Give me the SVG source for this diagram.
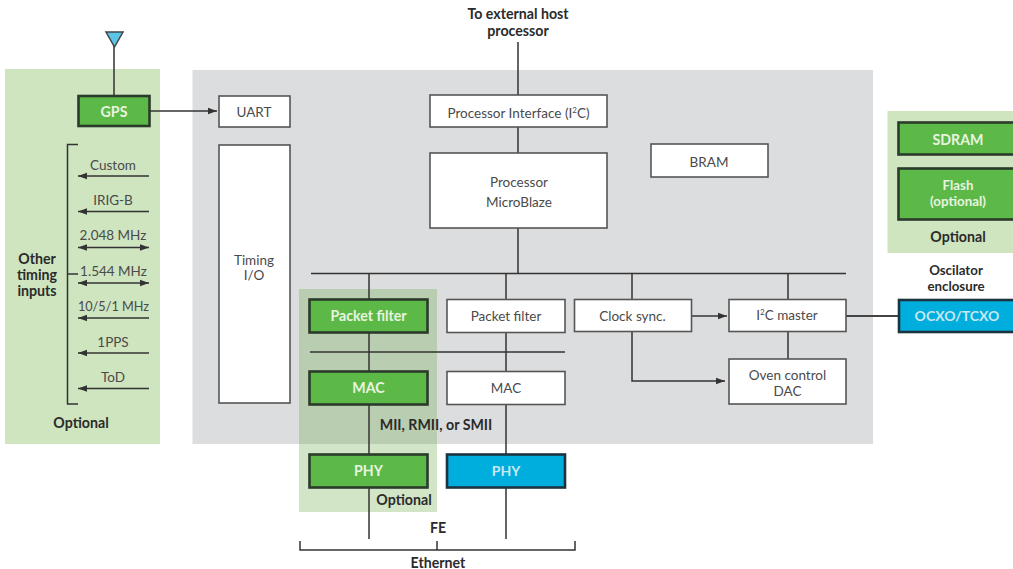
<svg xmlns="http://www.w3.org/2000/svg" width="1013" height="569" viewBox="0 0 1013 569">
<style>
text{font-family:"Lato","Open Sans","Liberation Sans",sans-serif;font-size:13.5px;fill:#4a4a4a;text-anchor:middle}
.b{font-weight:700;fill:#2b2b2b;font-size:14.2px}
.w{fill:#e8f4e0;font-weight:700;font-size:14.2px}
.c{fill:#c8e8f2;font-size:14px}
.s{font-size:13.3px}
.n{fill:#fff;stroke:#555;stroke-width:1.6}
.g{fill:#5cb947;stroke:#2b3a2b;stroke-width:2.6}
.y{fill:#00aede;stroke:#1c3440;stroke-width:2.6}
.l{fill:none;stroke:#333;stroke-width:1.5}
.t{stroke-width:2.2;stroke:#444}
</style>
<defs>
<marker id="e" markerUnits="userSpaceOnUse" markerWidth="10" markerHeight="8" refX="9" refY="4" orient="auto-start-reverse"><path d="M0 .8L9 4L0 7.2Z" fill="#333"/></marker>
</defs>
<rect x="5" y="69" width="155" height="375" fill="#cfe5c0"/>
<rect x="192.500" y="70" width="680.500" height="374" fill="#dcddde"/>
<rect x="887.500" y="111" width="125.500" height="142" fill="#cfe5c0"/>
<rect x="299" y="289" width="138" height="223" fill="#6aaa44" fill-opacity=".3"/>
<g id="connectors">
<path class="l" d="M114 46V96M518 42V95M518 127V153M518 228V273.500M311 273.500H846M369 273.500V299M506 273.500V299M632 273.500V299M788 273.500V299"/>
<path class="l" d="M369 332V371M506 332V371M310 352H565M369 404V454M506 404V454M369 487V539M506 487V539M788 332V359"/>
<path class="l" d="M300 541V550H575V541M437 541V550"/>
<path class="l" d="M78 144.500H67.500V404H78M67.500 274H78"/>
<path class="l t" d="M846 316H899"/>
<g class="l">
<path d="M149 111H217" marker-end="url(#e)"/>
<path d="M692 316H727" marker-end="url(#e)"/>
<path d="M632 332V381H725" marker-end="url(#e)"/>
<path d="M149 176H78" marker-end="url(#e)"/>
<path d="M149 211.500H78" marker-end="url(#e)"/>
<path d="M149 247.500H78" marker-start="url(#e)" marker-end="url(#e)"/>
<path d="M149 283H78" marker-start="url(#e)" marker-end="url(#e)"/>
<path d="M149 318H78" marker-end="url(#e)"/>
<path d="M149 353H78" marker-end="url(#e)"/>
<path d="M149 388.500H78" marker-end="url(#e)"/>
</g>
</g>
<g id="antenna"><path d="M106 32H123L114.500 47Z" fill="#5bc5e8" stroke="#444" stroke-width="1.500"/></g>
<g id="gps"><rect class="g" x="78.500" y="96" width="71" height="30"/><text class="w" x="114" y="116.500">GPS</text></g>
<g id="uart"><rect class="n" x="219" y="96" width="71" height="31"/><text x="254" y="116.500">UART</text></g>
<g id="timing"><rect class="n" x="219" y="145" width="71" height="258"/><text x="254" y="265">Timing</text><text x="254" y="280">I/O</text></g>
<g id="timing-inputs">
<text x="113" y="170">Custom</text><text x="113" y="205">IRIG-B</text><text x="113" y="240">2.048 MHz</text><text x="113.500" y="276">1.544 MHz</text><text x="113.500" y="311" style="font-size:12.700px">10/5/1 MHz</text><text x="113" y="347">1PPS</text><text x="113" y="382">ToD</text>
<text class="b" x="37" y="264">Other</text><text class="b" x="37" y="280">timing</text><text class="b" x="37" y="296">inputs</text>
<text class="b" x="81" y="428">Optional</text>
</g>
<g id="host"><text class="b" x="518" y="19">To external host</text><text class="b" x="518" y="36">processor</text></g>
<g id="proc-if"><rect class="n" x="430" y="95" width="177" height="32"/><text x="518.500" y="117.500">Processor Interface (I<tspan font-size="8" dy="-5">2</tspan><tspan dy="5">C)</tspan></text></g>
<g id="processor"><rect class="n" x="430" y="153" width="177" height="75"/><text x="519" y="187">Processor</text><text x="519" y="207">MicroBlaze</text></g>
<g id="bram"><rect class="n" x="651" y="144" width="117" height="33"/><text x="709" y="166.500">BRAM</text></g>
<g id="pf1"><rect class="g" x="309.500" y="299.500" width="118" height="33"/><text class="w" x="368.500" y="321">Packet filter</text></g>
<g id="pf2"><rect class="n" x="447" y="299.500" width="118" height="33"/><text x="506" y="321">Packet filter</text></g>
<g id="clock"><rect class="n" x="574.500" y="299.500" width="117" height="32"/><text x="632.500" y="321">Clock sync.</text></g>
<g id="i2c"><rect class="n" x="729" y="299.500" width="117" height="32"/><text x="787" y="320">I<tspan font-size="8" dy="-5">2</tspan><tspan dy="5">C master</tspan></text></g>
<g id="oven"><rect class="n" x="729" y="359" width="117" height="45"/><text x="787.500" y="380">Oven control</text><text x="787.500" y="396">DAC</text></g>
<g id="mac1"><rect class="g" x="309.500" y="371.500" width="118" height="33"/><text class="w" x="368.500" y="393">MAC</text></g>
<g id="mac2"><rect class="n" x="447" y="371.500" width="118" height="33"/><text x="506" y="393">MAC</text></g>
<text class="b" x="436" y="430">MII, RMII, or SMII</text>
<g id="phy1"><rect class="g" x="309.500" y="454.500" width="118" height="33"/><text class="w" x="368.500" y="475.500">PHY</text></g>
<g id="phy2"><rect class="y" x="447" y="454.500" width="118" height="33"/><text class="c" font-weight="700" x="506" y="475.500">PHY</text></g>
<text class="b" x="404" y="505">Optional</text>
<text class="b" x="438" y="533">FE</text>
<text class="b" x="438" y="568">Ethernet</text>
<g id="sdram"><rect class="g" x="898.500" y="122.500" width="120" height="32"/><text class="w" x="958" y="144.500">SDRAM</text></g>
<g id="flash"><rect class="g" x="898.500" y="168.500" width="120" height="51"/><text class="w s" x="958" y="190">Flash</text><text class="w s" x="958" y="206">(optional)</text></g>
<text class="b" x="958" y="242">Optional</text>
<text class="b s" x="956" y="275">Oscilator</text><text class="b s" x="956" y="291">enclosure</text>
<g id="ocxo"><rect class="y" x="899" y="300" width="120" height="32"/><text class="c" font-weight="700" x="957" y="321">OCXO/TCXO</text></g>
</svg>
